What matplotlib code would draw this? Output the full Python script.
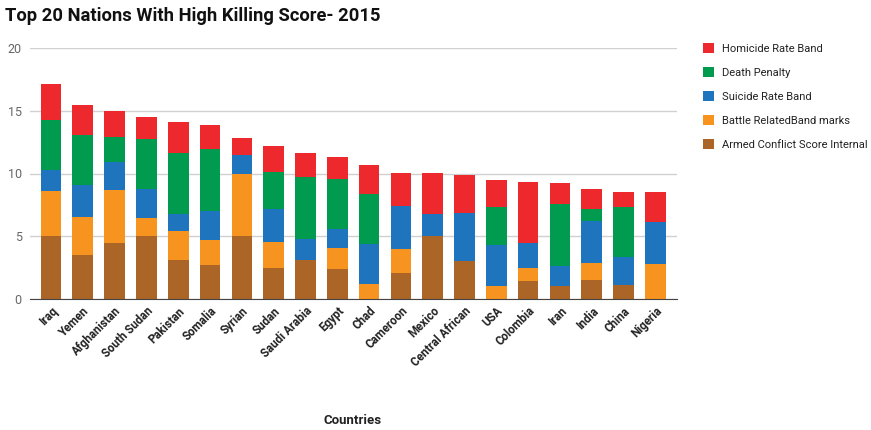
import matplotlib.pyplot as plt
import numpy as np

plt.rcParams['font.family'] = ['Roboto', 'DejaVu Sans']

# Data
countries = ['Iraq', 'Yemen', 'Afghanistan', 'South Sudan', 'Pakistan', 'Somalia', 'Syrian',
             'Sudan', 'Saudi Arabia', 'Egypt', 'Chad', 'Cameroon', 'Mexico', 'Central African',
             'USA', 'Colombia', 'Iran', 'India', 'China', 'Nigeria']
armed_conflict = [5.0, 3.5, 4.5, 5.0, 3.1, 2.7, 5.0, 2.45, 3.1, 2.4, 0.0, 2.1, 5.0, 3.05,
                  0.0, 1.4, 1.0, 1.5, 1.1, 0.0]
battle_related = [3.6, 3.0, 4.15, 1.45, 2.3, 2.0, 5.0, 2.1, 0.0, 1.7, 1.2, 1.85, 0.0, 0.0,
                  1.0, 1.05, 0.0, 1.4, 0.0, 2.75]
suicide_rate = [1.7, 2.6, 2.25, 2.35, 1.35, 2.3, 1.5, 2.6, 1.65, 1.5, 3.2, 3.5, 1.8, 3.8,
                3.3, 2.0, 1.6, 3.3, 2.25, 3.35]
death_penalty = [4.0, 3.95, 2.0, 3.95, 4.9, 4.95, 0.0, 3.0, 5.0, 3.95, 3.95, 0.0, 0.0, 0.0,
                 3.05, 0.0, 5.0, 1.0, 4.0, 0.0]
homicide_rate = [2.85, 2.4, 2.1, 1.75, 2.45, 1.9, 1.3, 2.05, 1.85, 1.8, 2.3, 2.6, 3.25, 3.0,
                 2.15, 4.9, 1.65, 1.6, 1.15, 2.4]

series = [
    ('Armed Conflict Score Internal', armed_conflict, '#ab6526'),
    ('Battle RelatedBand marks', battle_related, '#f7941f'),
    ('Suicide Rate Band', suicide_rate, '#1f75bd'),
    ('Death Penalty', death_penalty, '#009b4e'),
    ('Homicide Rate Band', homicide_rate, '#ee292e'),
]

fig = plt.figure(figsize=(8.71, 4.30), dpi=100)
ax = fig.add_axes([30 / 871, 1 - 299 / 430, 647 / 871, 251 / 430])

x = np.arange(len(countries))
bottom = np.zeros(len(countries))
handles = []
for name, vals, color in series:
    vals = np.array(vals)
    b = ax.bar(x, vals, width=0.65, bottom=bottom, color=color, label=name, zorder=3)
    handles.append(b)
    bottom += vals

ax.set_xlim(-0.66, len(countries) - 1 + 0.68)
ax.set_ylim(0, 20)
ax.set_yticks([0, 5, 10, 15, 20])
ax.yaxis.grid(True, color='#d0d0d0', linewidth=1, zorder=0)
ax.tick_params(axis='y', length=0, labelsize=9, labelcolor='#666666', pad=6)
ax.tick_params(axis='x', length=0, pad=4)
ax.set_xticks(x)
ax.set_xticklabels(countries, rotation=45, ha='right', rotation_mode='anchor',
                   fontsize=8.3, fontweight='bold', color='#222222')
for s in ['top', 'right', 'left']:
    ax.spines[s].set_visible(False)
ax.spines['bottom'].set_color('#444444')
ax.spines['bottom'].set_zorder(4)

fig.text(5 / 871, 1 - 16 / 430, 'Top 20 Nations With High Killing Score- 2015',
         fontsize=13.2, fontweight='bold', va='center', ha='left', color='#111111')
fig.text(353 / 871, 1 - 420 / 430, 'Countries', fontsize=9.5, fontweight='bold',
         ha='center', va='center', color='#222222')

leg = fig.legend(handles[::-1], [h.get_label() for h in handles[::-1]],
                 loc='upper left', bbox_to_anchor=(695 / 871, 1 - 35 / 430),
                 frameon=False, fontsize=8, handlelength=1.0, handleheight=1.0,
                 labelspacing=1.2, handletextpad=0.75, borderaxespad=0.3)
for t in leg.get_texts():
    t.set_color('#222222')

plt.savefig('out.png', dpi=100)
